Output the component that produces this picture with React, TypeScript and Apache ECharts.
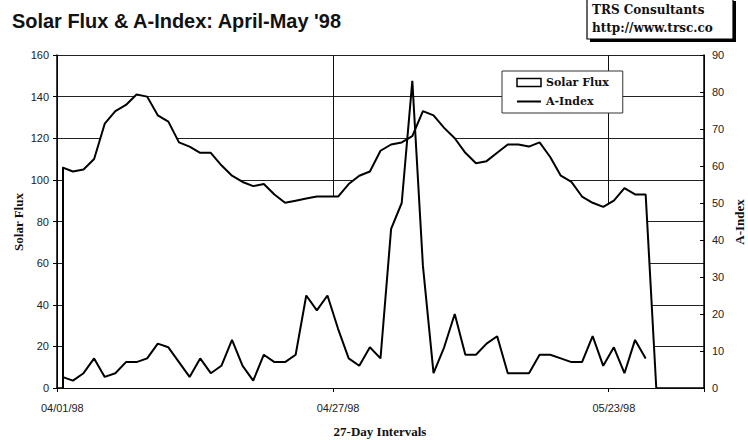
import React, { useEffect, useRef } from "react";
import * as echarts from "echarts";

// Daily categories, April 1 – May 31, 1998
const monthDays: [string, number][] = [["04", 30], ["05", 31]];
const categories: string[] = [];
for (const [m, n] of monthDays) {
  for (let d = 1; d <= n; d++) categories.push(`${m}/${String(d).padStart(2, "0")}/98`);
}

// Solar flux (left axis), last point 0 closes the area
const solarFlux = [
  106, 104, 105, 110, 127, 133, 136, 141, 140, 131, 128, 118, 116, 113, 113, 107, 102, 99, 97, 98,
  93, 89, 90, 91, 92, 92, 92, 98, 102, 104, 114, 117, 118, 121, 133, 131, 125, 120, 113, 108,
  109, 113, 117, 117, 116, 118, 111, 102, 99, 92, 89, 87, 90, 96, 93, 93, 0,
];

// A-Index (right axis)
const aIndex = [
  3, 2, 4, 8, 3, 4, 7, 7, 8, 12, 11, 7, 3, 8, 4, 6, 13, 6, 2, 9,
  7, 7, 9, 25, 21, 25, 16, 8, 6, 11, 8, 43, 50, 83, 33, 4, 11, 20, 9, 9,
  12, 14, 4, 4, 4, 9, 9, 8, 7, 7, 14, 6, 11, 4, 13, 8,
];

const fluxAxis = { min: 0, max: 160, interval: 20 };
const aAxis = { min: 0, max: 90, interval: 10 };
const labelEvery = 26;

const TITLE = "Solar Flux & A-Index: April-May '98";
const BOX_LINE_1 = "TRS Consultants";
const BOX_LINE_2 = "http://www.trsc.co";

const tickFont = "'Liberation Sans', Arial, sans-serif";
const serifBold = "bold 13px 'Liberation Serif', 'Times New Roman', serif";
const boxFont = "bold 12px 'DejaVu Serif', serif";

export default function App() {
  const ref = useRef<HTMLDivElement>(null);
  useEffect(() => {
    const chart = echarts.init(ref.current!, null, { renderer: "svg" });
    chart.setOption({
      animation: false,
      backgroundColor: "#fff",
      grid: { left: 57, right: 44, top: 55, bottom: 52, containLabel: false },
      legend: {
        orient: "vertical",
        left: 502,
        top: 71,
        itemWidth: 24,
        itemHeight: 8,
        itemGap: 8,
        backgroundColor: "#fff",
        borderColor: "#333",
        borderWidth: 1,
        borderRadius: 0,
        padding: [6, 14, 6, 14],
        textStyle: { fontFamily: "'DejaVu Serif', serif", fontWeight: "bold", fontSize: 11, color: "#111" },
        data: [
          { name: "Solar Flux", icon: "rect", itemStyle: { color: "#fff", borderColor: "#000", borderWidth: 1.5 } },
          { name: "A-Index", itemStyle: { color: "transparent", borderWidth: 0, opacity: 0 } },
        ],
      },
      xAxis: {
        type: "category",
        data: categories,
        boundaryGap: true,
        axisLine: { lineStyle: { color: "#000", width: 1.5 } },
        axisTick: { show: true, interval: labelEvery - 1, length: 4, lineStyle: { color: "#000" } },
        axisLabel: { interval: labelEvery - 1, margin: 14, fontSize: 11, fontFamily: tickFont, color: "#222" },
        splitLine: { show: true, interval: labelEvery - 1, lineStyle: { color: "#111", width: 1 } },
      },
      yAxis: [
        {
          type: "value",
          position: "left",
          ...fluxAxis,
          axisLine: { show: true, lineStyle: { color: "#000", width: 1.5 } },
          axisTick: { show: true, length: 4, lineStyle: { color: "#000" } },
          axisLabel: { margin: 8, fontSize: 11, fontFamily: tickFont, color: "#222" },
          splitLine: { show: true, lineStyle: { color: "#222", width: 1 } },
        },
        {
          type: "value",
          position: "right",
          ...aAxis,
          axisLine: { show: true, lineStyle: { color: "#000", width: 1.5 } },
          axisTick: { show: true, inside: true, length: 4, lineStyle: { color: "#000" } },
          axisLabel: { margin: 8, fontSize: 11, fontFamily: tickFont, color: "#222" },
          splitLine: { show: false },
        },
      ],
      series: [
        {
          name: "Solar Flux",
          type: "line",
          yAxisIndex: 0,
          data: solarFlux,
          symbol: "none",
          z: 2,
          lineStyle: { color: "#000", width: 2 },
          itemStyle: { color: "#fff", borderColor: "#000" },
          areaStyle: { color: "#fff", opacity: 1 },
          markLine: {
            silent: true,
            symbol: ["none", "none"],
            label: { show: false },
            lineStyle: { color: "#000", width: 2, type: "solid" },
            data: [[{ coord: [categories[0], 0] }, { coord: [categories[0], solarFlux[0]] }]],
          },
        },
        {
          name: "A-Index",
          type: "line",
          yAxisIndex: 1,
          data: aIndex,
          symbol: "none",
          z: 3,
          lineStyle: { color: "#000", width: 2 },
          itemStyle: { color: "#000" },
        },
      ],
      graphic: [
        {
          type: "text",
          x: 12,
          y: 20,
          scaleX: 0.95,
          style: {
            text: TITLE,
            font: "bold 21px 'Liberation Sans', Arial, sans-serif",
            fill: "#111",
            verticalAlign: "middle",
          },
        },
        { type: "rect", shape: { x: 590, y: 1, width: 146, height: 41 }, style: { fill: "#000" } },
        {
          type: "rect",
          shape: { x: 587, y: -2, width: 146, height: 41 },
          style: { fill: "#fff", stroke: "#000", lineWidth: 1.2 },
        },
        { type: "text", x: 592, y: 4, style: { text: BOX_LINE_1, font: boxFont, fill: "#111" } },
        { type: "text", x: 592, y: 22, style: { text: BOX_LINE_2, font: boxFont, fill: "#111" } },
        {
          type: "text",
          x: 18,
          y: 222,
          rotation: Math.PI / 2,
          style: { text: "Solar Flux", font: serifBold, fill: "#111", align: "center", verticalAlign: "middle" },
        },
        {
          type: "text",
          x: 739,
          y: 222,
          rotation: Math.PI / 2,
          style: { text: "A-Index", font: serifBold, fill: "#111", align: "center", verticalAlign: "middle" },
        },
        {
          type: "text",
          x: 380,
          y: 431,
          style: { text: "27-Day Intervals", font: serifBold, fill: "#111", align: "center", verticalAlign: "middle" },
        },
      ],
    });
    return () => chart.dispose();
  }, []);
  return <div ref={ref} style={{ position: "absolute", left: 0, top: 0, width: 748, height: 440 }} />;
}
